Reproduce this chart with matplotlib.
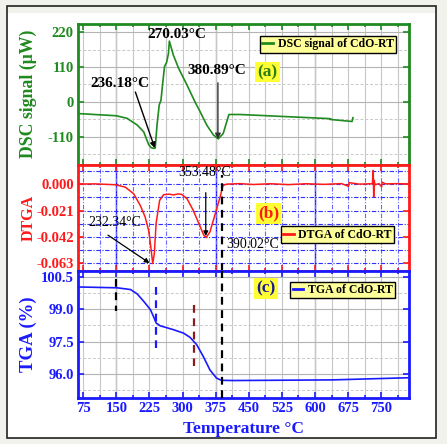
import numpy as np
import matplotlib
matplotlib.use('Agg')
import matplotlib.pyplot as plt
from matplotlib.lines import Line2D
from matplotlib.patches import Rectangle
from matplotlib.ticker import MultipleLocator, FixedLocator

plt.rcParams['font.family'] = ['Liberation Serif', 'DejaVu Serif']

# ---- data ----
dsc_T = [63, 150, 174, 197, 212, 223, 229, 236, 238, 242, 247, 251, 254.5, 259, 264,
         268, 270, 279, 291, 310, 328, 340, 355, 370, 381, 392, 400, 405, 430,
         633, 634, 636, 637, 684, 686]
dsc_y = [-37, -44, -52, -73, -95, -135, -145, -147, -146, -74, -10, 5, 53, 111, 126,
         153, 192, 148, 106, 53, 0, -32, -74, -105, -117, -100, -63, -40, -40,
         -53, -56, -54, -56, -62, -50]

dtga_T = [63, 100, 148, 170, 189, 204, 215, 223, 228, 232.3, 236, 240, 248, 257,
          270, 279, 290, 298, 310, 324, 340, 348, 353.5, 362, 373, 385, 390, 392, 400,
          430, 460, 500, 540, 580, 620, 660, 676, 677, 700, 730, 732, 733, 734, 736,
          745, 751, 752, 760, 790, 813]
dtga_y = [0.0, 0.0002, -0.0005, -0.0024, -0.0076, -0.0169, -0.026, -0.0367, -0.050,
          -0.0632, -0.055, -0.031, -0.0129, -0.0084, -0.0080, -0.0086, -0.0078,
          -0.0082, -0.0116, -0.0208, -0.034, -0.0406, -0.0425, -0.038, -0.0248,
          -0.0103, -0.003, -0.001, 0.0,
          0.0004, -0.0003, 0.0003, -0.0004, 0.0003, -0.0002, 0.0004, -0.0018, 0.0012,
          0.0, 0.0003, 0.0109, -0.0103, 0.003, -0.0005, 0.0004, -0.0022, 0.0015,
          0.0002, 0.0004, 0.0]

tga_T = [63, 152, 182, 197, 212, 227, 234, 240, 249, 279, 302, 317, 332, 347, 362,
         377, 388, 415, 640, 813]
tga_y = [100.03, 99.99, 99.91, 99.71, 99.36, 98.98, 98.66, 98.36, 98.23, 98.05, 97.89,
         97.69, 97.35, 96.80, 96.18, 95.80, 95.70, 95.69, 95.72, 95.82]

x_ticks = [75, 150, 225, 300, 375, 450, 525, 600, 675, 750]
dsc_ticks = [220, 110, 0, -110]
dtga_ticks = [0.0, -0.021, -0.042, -0.063]
tga_ticks = [100.5, 99.0, 97.5, 96.0]
dark_grid = [150, 375, 600]

GREEN = '#1f8a1f'
RED = '#ff1a1a'
BLUE = '#1a1aff'

fig = plt.figure(figsize=(4.47, 4.44), dpi=100)
fig.patch.set_facecolor('#f2f2ed')
fig.patches.append(Rectangle((7 / 447, 1 - 438 / 444), 429 / 447, 425 / 444,
                             transform=fig.transFigure, facecolor='white',
                             edgecolor='none', zorder=-10))
fig.patches.append(Rectangle((7 / 447, 1 - 438 / 444), 429 / 447, 432 / 444,
                             transform=fig.transFigure, facecolor='none',
                             edgecolor='#222222', lw=1.2, zorder=-9))

L, W = 78 / 447, 331 / 447
ax_a = fig.add_axes([L, 1 - 164.5 / 444, W, 140.5 / 444])
ax_b = fig.add_axes([L, 1 - 271 / 444, W, 106.5 / 444])
ax_c = fig.add_axes([L, 1 - 398 / 444, W, 127 / 444])


def style(ax, col, yticks, fmt, labels_x=False):
    ax.set_xlim(63, 813)
    for s in ax.spines.values():
        s.set_color(col)
        s.set_linewidth(2.0)
    ax.xaxis.set_major_locator(FixedLocator(x_ticks))
    ax.xaxis.set_minor_locator(MultipleLocator(37.5))
    ax.yaxis.set_major_locator(FixedLocator(yticks))
    ax.set_yticklabels([fmt.format(v) for v in yticks])
    ax.tick_params(which='both', direction='in', top=True, right=True, colors=col,
                   width=1.2)
    ax.tick_params(which='major', length=4, pad=3)
    ax.tick_params(which='minor', length=2)
    ax.tick_params(axis='y', which='minor', left=False, right=False)
    for t in ax.get_yticklabels():
        t.set_fontweight('bold')
        t.set_fontsize(10.5)
        t.set_color(col)
    if labels_x:
        ax.set_xticklabels([str(v) for v in x_ticks], fontweight='bold', fontsize=10.5,
                           color=BLUE)
    else:
        ax.set_xticklabels([])
    ax.set_axisbelow(True)


def grey_grid(ax, ystep):
    ax.yaxis.set_minor_locator(MultipleLocator(ystep))
    ax.grid(True, which='major', axis='y', color='#b4b4b4', lw=0.8)
    ax.grid(True, which='minor', axis='y', color='#c8c8c8', lw=0.7, ls=(0, (3, 2)))
    ax.grid(True, which='both', axis='x', color='#c8c8c8', lw=0.8)
    for v in dark_grid:
        ax.axvline(v, color='#808080', lw=0.9, zorder=0.5)


leg_kw = dict(loc='upper right', prop=dict(size=8.5, weight='bold'),
              facecolor='#ffff99', edgecolor='black', framealpha=1, fancybox=False,
              handlelength=0.9, handletextpad=0.4, borderpad=0.2, borderaxespad=0)

# ---- (a) DSC ----
style(ax_a, GREEN, dsc_ticks, '{:g}')
ax_a.set_ylim(-198, 246)
grey_grid(ax_a, 55)
ax_a.plot(dsc_T, dsc_y, color=GREEN, lw=1.2)
ax_a.set_ylabel('DSC signal (μW)', color=GREEN, fontsize=12.8, fontweight='bold')
ax_a.yaxis.set_label_coords(-0.124, 0.5)
ann = dict(fontsize=11, fontweight='bold', color='black')
ax_a.text(220, 214, '270.03°C', va='center', **ann)
ax_a.text(312, 100, '380.89°C', va='center', **ann)
ax_a.text(91, 59, '236.18°C', va='center', **ann)
ax_a.annotate('', xy=(237, -146), xytext=(193, 31),
              arrowprops=dict(arrowstyle='-|>', color='black', lw=1.0,
                              mutation_scale=8, shrinkA=0, shrinkB=0))
ax_a.annotate('', xy=(380, -118), xytext=(380, 60),
              arrowprops=dict(arrowstyle='-|>', color='#333333', lw=1.0,
                              mutation_scale=8, shrinkA=0, shrinkB=0))
ax_a.text(0.5725, 0.658, '(a)', transform=ax_a.transAxes, ha='center', va='center',
          fontsize=12.5, fontweight='bold', color='#2e7d1a',
          bbox=dict(boxstyle='square,pad=0.12', facecolor='#ffff33', edgecolor='none'))
ax_a.legend(handles=[Line2D([], [], color=GREEN, lw=2)], labels=['DSC signal of CdO-RT'],
            bbox_to_anchor=(0.961, 0.915), **leg_kw)

# ---- (b) DTGA ----
style(ax_b, RED, dtga_ticks, '{:.3f}')
ax_b.set_ylim(-0.0691, 0.0156)
ax_b.yaxis.set_minor_locator(MultipleLocator(0.0105))
ax_b.grid(True, which='both', axis='y', color='#3030ff', lw=0.8, ls=(0, (4, 1.5, 1, 1.5)))
ax_b.grid(True, which='both', axis='x', color='#6a6aff', lw=0.8, ls=(0, (4, 1.5, 1, 1.5)))
for v in dark_grid:
    ax_b.axvline(v, color='#1010ff', lw=1.0, zorder=0.5)
ax_b.plot(dtga_T, dtga_y, color=RED, lw=1.1)
ax_b.set_ylabel('DTGA', color=RED, fontsize=11.5, fontweight='bold')
ax_b.yaxis.set_label_coords(-0.124, 0.5)
ax_b.axvline(390, ymin=0.0, ymax=0.9, color='black', lw=1.6, ls=(0, (3.5, 2.5)), zorder=3)
ann_b = dict(fontsize=10, color='black')
ax_b.text(350, 0.009, '353.48°C', ha='center', va='center', **ann_b)
ax_b.text(87, -0.0306, '232.34°C', va='center', **ann_b)
ax_b.text(398, -0.048, '390.02°C', va='center', **ann_b)
ax_b.annotate('', xy=(225, -0.0628), xytext=(131, -0.0406),
              arrowprops=dict(arrowstyle='-|>', color='black', lw=0.9,
                              mutation_scale=7, shrinkA=0, shrinkB=0))
ax_b.annotate('', xy=(352.5, -0.0414), xytext=(352.5, -0.0068),
              arrowprops=dict(arrowstyle='-|>', color='black', lw=0.9,
                              mutation_scale=7, shrinkA=0, shrinkB=0))
ax_b.text(0.576, 0.54, '(b)', transform=ax_b.transAxes, ha='center', va='center',
          fontsize=12.5, fontweight='bold', color=RED,
          bbox=dict(boxstyle='square,pad=0.12', facecolor='#ffff33', edgecolor='none'))
ax_b.legend(handles=[Line2D([], [], color=RED, lw=2)], labels=['DTGA of CdO-RT'],
            bbox_to_anchor=(0.955, 0.418), **leg_kw)

# ---- (c) TGA ----
style(ax_c, BLUE, tga_ticks, '{:.1f}', labels_x=True)
ax_c.set_ylim(94.88, 100.77)
grey_grid(ax_c, 0.75)
ax_c.plot(tga_T, tga_y, color=BLUE, lw=1.2)
ax_c.set_ylabel('TGA (%)', color=BLUE, fontsize=13.5, fontweight='bold')
ax_c.yaxis.set_label_coords(-0.124, 0.5)
ax_c.set_xlabel('Temperature °C', color=BLUE, fontsize=12.5, fontweight='bold')
ax_c.xaxis.set_label_coords(0.5, -0.18)
ax_c.plot([150, 150], [100.42, 98.9], color='black', lw=1.6, ls=(0, (3.5, 2.5)))
ax_c.plot([240, 240], [100.02, 97.22], color='#1a1aff', lw=1.6, ls=(0, (3.5, 2.5)))
ax_c.plot([325, 325], [99.18, 96.38], color='#8b1a1a', lw=1.6, ls=(0, (3.5, 2.5)))
ax_c.axvline(390, color='black', lw=1.6, ls=(0, (3.5, 2.5)), zorder=3)
ax_c.text(0.568, 0.862, '(c)', transform=ax_c.transAxes, ha='center', va='center',
          fontsize=12.5, fontweight='bold', color='#1a1a99',
          bbox=dict(boxstyle='square,pad=0.12', facecolor='#ffff33', edgecolor='none'))
ax_c.legend(handles=[Line2D([], [], color=BLUE, lw=2)], labels=['TGA of CdO-RT'],
            bbox_to_anchor=(0.958, 0.917), **leg_kw)

fig.savefig('out.png', dpi=100)
